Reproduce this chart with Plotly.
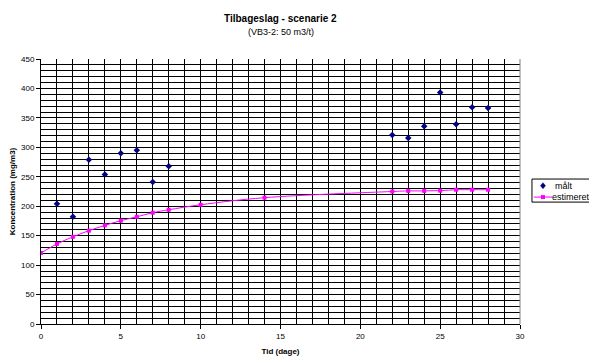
import plotly.graph_objects as go

# Measured (målt)
malt_x = [1, 2, 3, 4, 5, 6, 7, 8, 22, 23, 24, 25, 26, 27, 28]
malt_y = [204, 182, 279, 254, 290, 295, 241, 268, 321, 316, 336, 393, 339, 368, 367]

# Estimated (estimeret)
est_x = [0, 1, 2, 3, 4, 5, 6, 7, 8, 10, 14, 22, 23, 24, 25, 26, 27, 28]
est_y = [120.5, 136, 148, 158.5, 167.5, 175.5, 182, 189, 194, 202.5, 214.5, 225, 226, 226, 226.5, 228, 228, 228]

series_names = ["målt", "estimeret"]
title = "<b>Tilbageslag - scenarie 2</b>"
subtitle = "(VB3-2: 50 m3/t)"
x_title = "<b>Tid (dage)</b>"
y_title = "<b>Koncentration (mg/m3)</b>"

FONT = "Arial, Liberation Sans, sans-serif"
NAVY = "#000080"
MAGENTA = "#FF00FF"

fig = go.Figure()
fig.add_trace(go.Scatter(
    x=malt_x, y=malt_y, mode="markers", name=series_names[0], showlegend=False,
    marker=dict(symbol="diamond", color=NAVY, size=5),
))
fig.add_trace(go.Scatter(
    x=est_x, y=est_y, mode="lines+markers", name=series_names[1], showlegend=False,
    line=dict(color=MAGENTA, width=1, shape="spline"),
    marker=dict(symbol="square", color=MAGENTA, size=4),
))

fig.add_annotation(text=title, x=0.5, y=1, xref="paper", yref="paper",
                   xanchor="center", yanchor="bottom", yshift=33, showarrow=False,
                   font=dict(family=FONT, size=10, color="black"))
fig.add_annotation(text=subtitle, x=0.5, y=1, xref="paper", yref="paper",
                   xanchor="center", yanchor="bottom", yshift=20, showarrow=False,
                   font=dict(family=FONT, size=9, color="black"))

axis_common = dict(
    showgrid=True, gridcolor="black", gridwidth=1,
    zeroline=False, showline=True, linecolor="black", linewidth=1,
    ticks="outside", ticklen=4, tickcolor="black", automargin=False,
    tickfont=dict(family=FONT, size=8, color="black"),
)

fig.update_xaxes(range=[0, 30], dtick=5, tick0=0,
                 minor=dict(dtick=1, showgrid=True, gridcolor="black", gridwidth=1),
                 title=dict(text=x_title, standoff=8,
                            font=dict(family=FONT, size=8, color="black")),
                 **axis_common)
fig.update_yaxes(range=[0, 450], dtick=50, tick0=0,
                 minor=dict(dtick=10, showgrid=True, gridcolor="black", gridwidth=1),
                 title=dict(text=y_title, standoff=6,
                            font=dict(family=FONT, size=8, color="black")),
                 **axis_common)

# right border of plot area (gray)
fig.add_shape(type="line", xref="paper", yref="paper", x0=1, x1=1, y0=0, y1=1,
              line=dict(color="#808080", width=1))

# compact legend box (drawn in paper coordinates)
fig.add_shape(type="rect", xref="paper", yref="paper", x0=1.025, x1=1.146, y0=0.460, y1=0.547,
              line=dict(color="black", width=1), fillcolor="white")
# diamond symbol
dx, dy, hx, hy = 1.048, 0.522, 2.5 / 479, 3 / 265
fig.add_shape(type="path", xref="paper", yref="paper",
              path=f"M {dx-hx},{dy} L {dx},{dy+hy} L {dx+hx},{dy} L {dx},{dy-hy} Z",
              line=dict(color=NAVY, width=0.5), fillcolor=NAVY)
# line + square symbol
ly = 0.479
fig.add_shape(type="line", xref="paper", yref="paper", x0=1.029, x1=1.067, y0=ly, y1=ly,
              line=dict(color=MAGENTA, width=1))
sx, sy = 2 / 479, 2 / 265
fig.add_shape(type="rect", xref="paper", yref="paper", x0=dx - sx, x1=dx + sx, y0=ly - sy, y1=ly + sy,
              line=dict(color=MAGENTA, width=0), fillcolor=MAGENTA)
fig.add_annotation(text=series_names[0], x=1.069, y=0.522, xref="paper", yref="paper",
                   xanchor="left", yanchor="middle", showarrow=False,
                   font=dict(family=FONT, size=9, color="black"))
fig.add_annotation(text=series_names[1], x=1.063, y=0.479, xref="paper", yref="paper",
                   xanchor="left", yanchor="middle", showarrow=False,
                   font=dict(family=FONT, size=9, color="black"))

# page body has an 8px margin; size the figure to compensate
fig.update_layout(
    width=589, height=355,
    margin=dict(l=33, r=77, t=51, b=39),
    paper_bgcolor="white", plot_bgcolor="white",
    showlegend=False,
)

fig.write_html("out.html")
